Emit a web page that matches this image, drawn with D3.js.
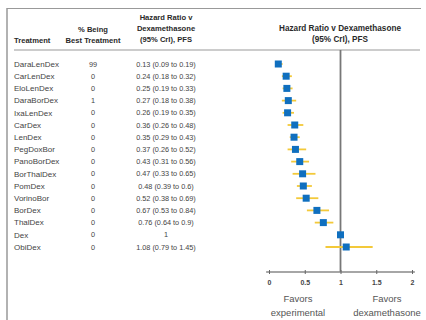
<!DOCTYPE html>
<html>
<head>
<meta charset="utf-8">
<script src="https://cdn.jsdelivr.net/npm/d3@7"></script>
<style>
  body { margin: 0; background: #fff; }
  svg text { font-family: "Liberation Sans", Arial, sans-serif; }
</style>
</head>
<body>
<svg id="chart" width="426" height="320"></svg>
<script>
var treatments = ['DaraLenDex', 'CarLenDex', 'EloLenDex', 'DaraBorDex', 'IxaLenDex',
    'CarDex', 'LenDex', 'PegDoxBor', 'PanoBorDex', 'BorThalDex', 'PomDex',
    'VorinoBor', 'BorDex', 'ThalDex', 'Dex', 'ObiDex'];
var pctBest = [99, 0, 0, 1, 0, 0, 0, 0, 0, 0, 0, 0, 0, 0, 0, 0];
var hr = [0.13, 0.24, 0.25, 0.27, 0.26, 0.36, 0.35, 0.37, 0.43, 0.47, 0.48, 0.52, 0.67, 0.76, 1, 1.08];
var lower = [0.09, 0.18, 0.19, 0.18, 0.19, 0.26, 0.29, 0.26, 0.31, 0.33, 0.39, 0.38, 0.53, 0.64, null, 0.79];
var upper = [0.19, 0.32, 0.33, 0.38, 0.35, 0.48, 0.43, 0.52, 0.56, 0.65, 0.6, 0.69, 0.84, 0.9, null, 1.45];
var hrLabels = ['0.13 (0.09 to 0.19)', '0.24 (0.18 to 0.32)', '0.25 (0.19 to 0.33)',
    '0.27 (0.18 to 0.38)', '0.26 (0.19 to 0.35)', '0.36 (0.26 to 0.48)',
    '0.35 (0.29 to 0.43)', '0.37 (0.26 to 0.52)', '0.43 (0.31 to 0.56)',
    '0.47 (0.33 to 0.65)', '0.48 (0.39 to 0.6)', '0.52 (0.38 to 0.69)',
    '0.67 (0.53 to 0.84)', '0.76 (0.64 to 0.9)', '1', '1.08 (0.79 to 1.45)'];
var xTicks = [0, 0.5, 1, 1.5, 2];

var rows = treatments.map(function (t, i) {
    return { name: t, pct: pctBest[i], hr: hr[i], lo: lower[i], hi: upper[i], label: hrLabels[i] };
});

var svg = d3.select('#chart');
var textCol = '#444';

var x = d3.scaleLinear().domain([0, 2]).range([269, 412]);
var y = d3.scalePoint().domain(treatments).range([64, 247]);
var axisY = 272, headerY = 50;

// frame
svg.append('line').attr('x1', 7).attr('x2', 421).attr('y1', 8.5).attr('y2', 8.5)
    .attr('stroke', '#999').attr('stroke-width', 1.2);
svg.append('line').attr('x1', 7).attr('x2', 7).attr('y1', 8).attr('y2', 320)
    .attr('stroke', '#999').attr('stroke-width', 1.5);
svg.append('line').attr('x1', 14).attr('x2', 420).attr('y1', headerY).attr('y2', headerY)
    .attr('stroke', '#999').attr('stroke-width', 1);

// headers
function header(lines, cx, lastY, anchor, size) {
    var t = svg.append('text')
        .attr('text-anchor', anchor || 'middle')
        .style('font-size', (size || 7.6) + 'px').style('font-weight', 'bold').style('fill', '#2a2a2a');
    lines.forEach(function (l, i) {
        t.append('tspan').attr('x', cx).attr('y', lastY - (lines.length - 1 - i) * 11).text(l);
    });
}
header(['Treatment'], 14, 43, 'start');
header(['% Being', 'Best Treatment'], 93, 43);
header(['Hazard Ratio v', 'Dexamethasone', '(95% CrI), PFS'], 166, 42);
header(['Hazard Ratio v Dexamethasone', '(95% CrI), PFS'], 340, 42, 'middle', 8.2);

// table columns
var g = svg.append('g').style('font-size', '7.3px').style('fill', textCol);
g.selectAll('.name').data(rows).enter().append('text')
    .attr('class', 'name').attr('x', 14).attr('y', function (d) { return y(d.name); })
    .attr('dy', '0.35em').style('font-size', '8px').text(function (d) { return d.name; });
g.selectAll('.pct').data(rows).enter().append('text')
    .attr('class', 'pct').attr('x', 93).attr('y', function (d) { return y(d.name); })
    .attr('dy', '0.35em').attr('text-anchor', 'middle').text(function (d) { return d.pct; });
g.selectAll('.hr').data(rows).enter().append('text')
    .attr('class', 'hr').attr('x', 166).attr('y', function (d) { return y(d.name); })
    .attr('dy', '0.35em').attr('text-anchor', 'middle').text(function (d) { return d.label; });

// reference line at 1
svg.append('line').attr('x1', x(1)).attr('x2', x(1)).attr('y1', headerY).attr('y2', axisY)
    .attr('stroke', '#777').attr('stroke-width', 1.8);

// CI lines
svg.selectAll('.ci').data(rows.filter(function (d) { return d.lo != null; })).enter()
    .append('line').attr('class', 'ci')
    .attr('x1', function (d) { return x(d.lo); }).attr('x2', function (d) { return x(d.hi); })
    .attr('y1', function (d) { return y(d.name); }).attr('y2', function (d) { return y(d.name); })
    .attr('stroke', '#f3c93a').attr('stroke-width', 1.8);

// point estimates
var s = 7;
svg.selectAll('.pt').data(rows).enter().append('rect').attr('class', 'pt')
    .attr('x', function (d) { return x(d.hr) - s / 2; })
    .attr('y', function (d) { return y(d.name) - s / 2; })
    .attr('width', s).attr('height', s)
    .attr('fill', '#0f6fbf');

// axis
var axis = svg.append('g').attr('transform', 'translate(0,' + axisY + ')')
    .call(d3.axisBottom(x).tickValues(xTicks).tickSize(2).tickSizeOuter(0)
        .tickFormat(function (d) { return d; }));
axis.select('.domain').attr('d', 'M' + x(-0.04) + ',0H' + x(2.04))
    .attr('stroke', '#888').attr('stroke-width', 1.5);
axis.selectAll('.tick line').attr('y1', -2).attr('stroke', '#666');
axis.selectAll('.tick text').attr('y', 8).style('font-size', '7px')
    .style('font-weight', 'bold').style('fill', '#444')
    .style('font-family', '"Liberation Sans", Arial, sans-serif');

// favors labels
function favors(lines, cx) {
    var t = svg.append('text').attr('text-anchor', 'middle')
        .style('font-size', '9.5px').style('fill', '#555');
    lines.forEach(function (l, i) {
        t.append('tspan').attr('x', cx).attr('y', 302 + i * 14).text(l);
    });
}
favors(['Favors', 'experimental'], 298);
favors(['Favors', 'dexamethasone'], 387);
</script>
</body>
</html>
